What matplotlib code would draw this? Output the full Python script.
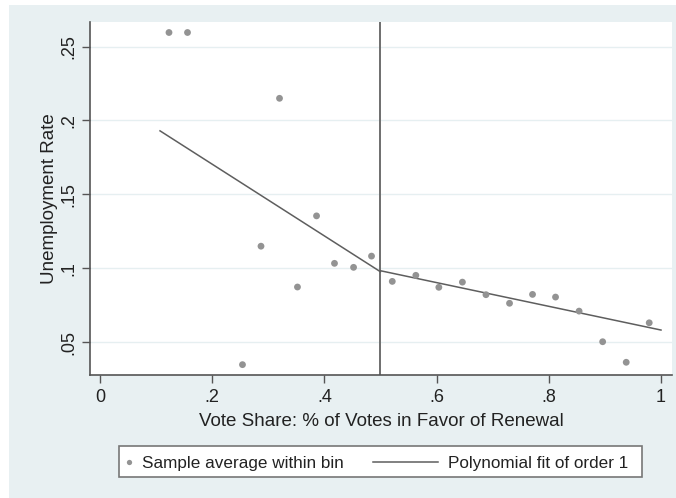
import matplotlib.pyplot as plt
from matplotlib.patches import Rectangle
from matplotlib.lines import Line2D

plt.rcParams['font.family'] = ['Liberation Sans', 'DejaVu Sans']

# binned sample averages
bin_x = [0.123, 0.156, 0.254, 0.287, 0.320, 0.352, 0.386, 0.418, 0.452, 0.484,
         0.521, 0.563, 0.604, 0.646, 0.688, 0.730, 0.771, 0.812, 0.854, 0.896,
         0.938, 0.979]
bin_y = [0.2595, 0.2595, 0.0349, 0.115, 0.215, 0.0874, 0.1355, 0.1034, 0.1007, 0.1083,
         0.0912, 0.0953, 0.0872, 0.0907, 0.0822, 0.0764, 0.0824, 0.0806, 0.0711, 0.0504,
         0.0365, 0.0632]

# linear fits on each side of the cutoff
fit_left_x = [0.107, 0.5]
fit_left_y = [0.193, 0.0977]
fit_right_x = [0.5, 1.0]
fit_right_y = [0.0984, 0.0583]
cutoff = 0.5

xticks = [0, 0.2, 0.4, 0.6, 0.8, 1.0]
xtick_labels = ['0', '.2', '.4', '.6', '.8', '1']
yticks = [0.05, 0.10, 0.15, 0.20, 0.25]
ytick_labels = ['.05', '.1', '.15', '.2', '.25']
legend_labels = ['Sample average within bin', 'Polynomial fit of order 1']

W, H = 676, 498
bg = '#e8f0f2'
dot_c = '#939393'
fit_c = '#5e5e5e'
txt_c = '#222222'


def px(x, y):
    # pixel position (from top-left) -> figure fraction
    return x / W, 1 - y / H


fig = plt.figure(figsize=(W / 100, H / 100), dpi=100, facecolor='white')
fig.patches.append(Rectangle((9 / W, 0), 1 - 9 / W, 1 - 5 / H, transform=fig.transFigure,
                             facecolor=bg, edgecolor='none', zorder=-10))

ax = fig.add_axes([90 / W, 1 - 375 / H, 582 / W, 353 / H])
ax.set_facecolor('white')

ax.scatter(bin_x, bin_y, s=24, color=dot_c, edgecolors='none', zorder=3)
ax.plot(fit_left_x, fit_left_y, color=fit_c, lw=1.1, zorder=2)
ax.plot(fit_right_x, fit_right_y, color=fit_c, lw=1.1, zorder=2)
ax.axvline(cutoff, color='#6e6e6e', lw=1.4, zorder=1)

ax.set_xlim(-0.0178, 1.0196)
ax.set_ylim(0.0279, 0.2666)
ax.set_xticks(xticks, xtick_labels)
ax.set_yticks(yticks, ytick_labels)
ax.tick_params(axis='both', direction='out', length=6, width=1, color='#555555',
               labelsize=13, labelcolor=txt_c, pad=4)
ax.tick_params(axis='y', labelrotation=90, pad=3)
for lab in ax.get_yticklabels():
    lab.set_va('center')
ax.grid(axis='y', color='#e6eff1', lw=1)
ax.set_axisbelow(True)

for side in ['top', 'right']:
    ax.spines[side].set_visible(False)
for side in ['left', 'bottom']:
    ax.spines[side].set_color('#555555')
    ax.spines[side].set_linewidth(1.2)

ax.set_xlabel('Vote Share: % of Votes in Favor of Renewal', fontsize=13.5, color=txt_c, labelpad=5)
ax.set_ylabel('Unemployment Rate', fontsize=13.5, color=txt_c, labelpad=2)

# legend box below the plot
x0, y0 = px(119, 477)
x1, y1 = px(642, 446)
fig.patches.append(Rectangle((x0, y0), x1 - x0, y1 - y0, transform=fig.transFigure,
                             facecolor='white', edgecolor='#777777', lw=1.2, zorder=5))
ly = px(0, 461.5)[1]
fig.add_artist(Line2D([px(129, 0)[0]], [ly], ls='none', marker='o', ms=3.8, color=dot_c,
                      mec='none', transform=fig.transFigure, zorder=6))
fig.text(px(142, 0)[0], ly, legend_labels[0], fontsize=12.3, color=txt_c,
         va='center_baseline', ha='left', zorder=6)
fig.add_artist(Line2D([px(373, 0)[0], px(438, 0)[0]], [ly, ly], color=fit_c, lw=1.1,
                      transform=fig.transFigure, zorder=6))
fig.text(px(448, 0)[0], ly, legend_labels[1], fontsize=12.3, color=txt_c,
         va='center_baseline', ha='left', zorder=6)

fig.savefig('out.png', dpi=100, facecolor=fig.get_facecolor())
